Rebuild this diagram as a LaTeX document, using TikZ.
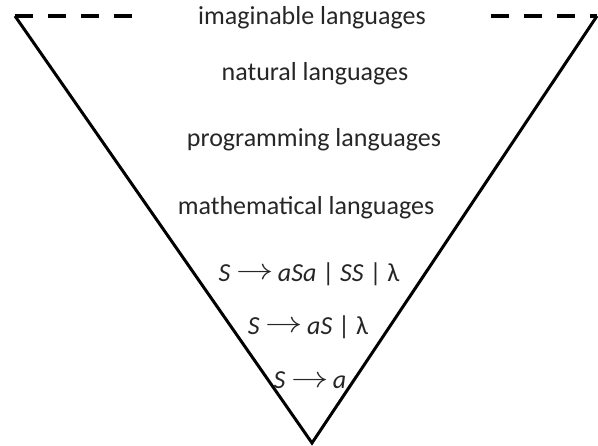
\documentclass[tikz,border=0pt]{standalone}
\usepackage{fontspec}
\setmainfont{Carlito}
\newcommand{\myarr}{\raisebox{0.05em}{\scalebox{1.5}[1.2]{$\mathord{\rightarrow}$}}}
\begin{document}
\begin{tikzpicture}[x=1pt,y=-1pt,
  edge/.style={line width=3pt,line cap=butt,line join=miter},
  dashline/.style={line width=3.5pt,dash pattern=on 18pt off 15pt},
  lbl/.style={font=\fontsize{26}{30}\selectfont,text=black!85,inner sep=0pt,anchor=center}]
\useasboundingbox (0,0) rectangle (598,446);
\coordinate (tl) at (15,16);
\coordinate (tr) at (597,16);
\coordinate (ap) at (312,443);
\coordinate (dl) at (136,16);
\coordinate (dr) at (491,16);
\draw[edge] (tl) -- (ap) -- (tr);
\draw[dashline] (tl) -- (dl);
\draw[dashline] (dr) -- (tr);
\node[lbl] (imag) at (312,18) {imaginable languages};
\node[lbl] (nat) at (315,74) {natural languages};
\node[lbl] (prog) at (314,140) {programming languages};
\node[lbl] (math) at (306,208) {mathematical languages};
\node[lbl] (g1) at (309,274) {\textit{S} \myarr\,\textit{aSa} | \textit{SS} | λ};
\node[lbl] (g2) at (308,327) {\textit{S} \myarr\,\textit{aS} | λ};
\node[lbl] (g3) at (310,380) {\textit{S} \myarr\,\textit{a}};
\end{tikzpicture}
\end{document}
